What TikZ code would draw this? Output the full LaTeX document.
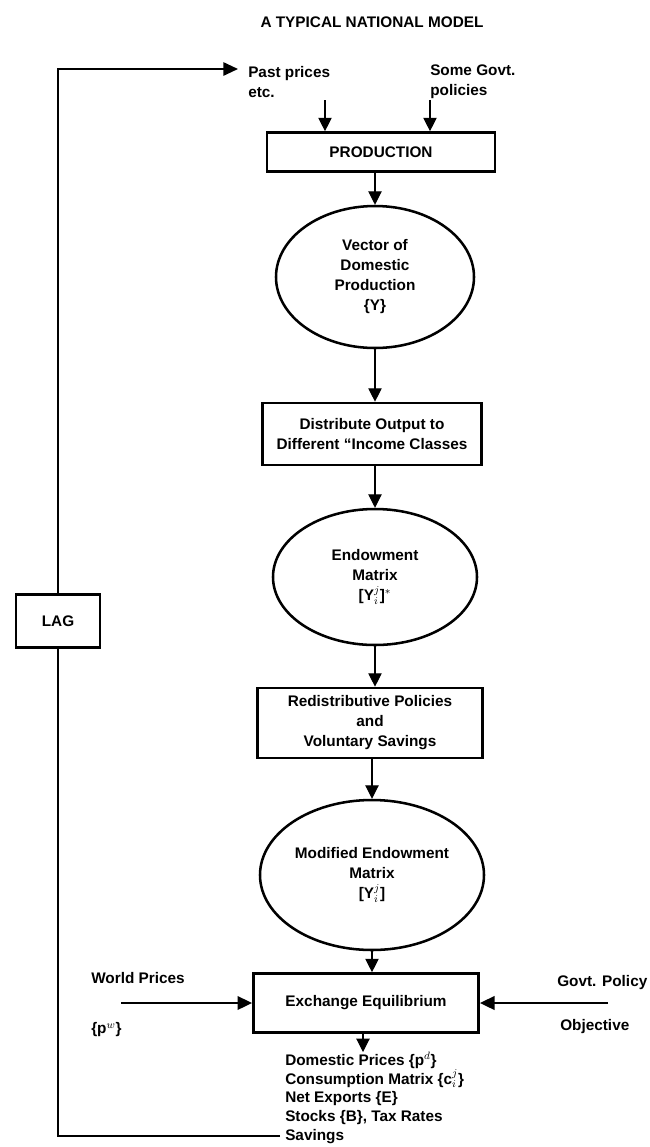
\documentclass[tikz,border=0pt]{standalone}
\usepackage{fontspec}
\setmainfont{Liberation Sans}
\usetikzlibrary{arrows.meta,shapes.geometric}
\newcommand{\pxl}{0.75pt}
\begin{document}
\begin{tikzpicture}[x=0.75pt,y=-0.75pt,
  every node/.style={font=\bfseries\fontsize{11.5}{15}\selectfont},
  flowbox/.style={draw,line width=2pt,rectangle,inner sep=0pt,align=center},
  oval/.style={draw,line width=1.9pt,ellipse,inner sep=0pt,align=center},
  arr/.style={-{Triangle[length=10pt,width=10pt]},line width=0.8pt},
  harr/.style={-{Triangle[length=11pt,width=10pt]},line width=2pt},
  txt/.style={align=left,anchor=west,inner sep=0pt},
  loop/.style={line width=1.4pt}]
\useasboundingbox (0,0) rectangle (650,1147);

% heading
\node (title) at (372,22) {A TYPICAL NATIONAL MODEL};

% inputs to production
\node[txt] (past) at (248,82) {Past prices\\etc.};
\node[txt] (sgp) at (430,82) {Some Govt.\\policies};
\coordinate (pa) at (325,100);
\coordinate (pb) at (430,100);

% main chain
\node[flowbox,minimum width=228*\pxl,minimum height=39*\pxl] (prod) at (381,152) {PRODUCTION};
\node[oval,minimum width=198*\pxl,minimum height=142*\pxl] (vec) at (375,277)
  {Vector of\\Domestic\\Production\\\{Y\}};
\node[flowbox,minimum width=219*\pxl,minimum height=62*\pxl] (dist) at (372,434)
  {Distribute Output to\\Different ``Income Classes};
\node[oval,minimum width=204*\pxl,minimum height=136*\pxl] (endw) at (375,577)
  {Endowment\\Matrix\\{}[Y$^{j}_{i}$]$^{*}$};
\node[flowbox,minimum width=225*\pxl,minimum height=70*\pxl] (redis) at (370,723)
  {Redistributive Policies\\and\\Voluntary Savings};
\node[oval,minimum width=224*\pxl,minimum height=150*\pxl] (mod) at (372,875)
  {Modified Endowment\\Matrix\\{}[Y$^{j}_{i}$]};
\node[flowbox,minimum width=225*\pxl,minimum height=59*\pxl] (exch) at (366,1003)
  {Exchange Equilibrium};

% side inputs and results
\node[txt] (wp) at (91,978) {World Prices};
\node[txt] (pw) at (91,1030) {\{p$^{w}$\}};
\coordinate (wpstart) at (121,1003);
\node[txt] (gp) at (557,983) {Govt. Policy};
\node[txt] (obj) at (560,1027) {Objective};
\coordinate (gpstart) at (608,1003);
\node[txt,align=left,font=\bfseries\fontsize{11.5}{14.2}\selectfont] (out) at (285,1098)
  {Domestic Prices \{p$^{d}$\}\\
   Consumption Matrix \{c$^{j}_{i}$\}\\
   Net Exports \{E\}\\
   Stocks \{B\}, Tax Rates\\
   Savings};
\coordinate (outend) at (280,1136);
\coordinate (outtip) at (363,1052);

% lag and feedback loop
\node[flowbox,minimum width=84*\pxl,minimum height=53*\pxl] (lag) at (58,621) {LAG};
\coordinate (loopbot) at (58,1136);
\coordinate (looptop) at (58,69);
\coordinate (pasttip) at (238,69);

% connectors
\draw[arr] (pa) -- (pa |- prod.north);
\draw[arr] (pb) -- (pb |- prod.north);
\draw[arr] (prod.south -| vec.north) -- (vec.north);
\draw[arr] (vec.south) -- (dist.north -| vec.south);
\draw[arr] (dist.south -| endw.north) -- (endw.north);
\draw[arr] (endw.south) -- (redis.north -| endw.south);
\draw[arr] (redis.south -| mod.north) -- (mod.north);
\draw[arr] (mod.south) -- (exch.north -| mod.south);
\draw[harr] (wpstart) -- (exch.west |- wpstart);
\draw[harr] (gpstart) -- (exch.east |- gpstart);
\draw[arr] (exch.south -| outtip) -- (outtip);
\draw[loop] (outend) -- (loopbot) -- (lag.south);
\draw[loop,-{Triangle[length=11pt,width=10pt]}] (lag.north) -- (looptop) -- (pasttip);
\end{tikzpicture}
\end{document}
